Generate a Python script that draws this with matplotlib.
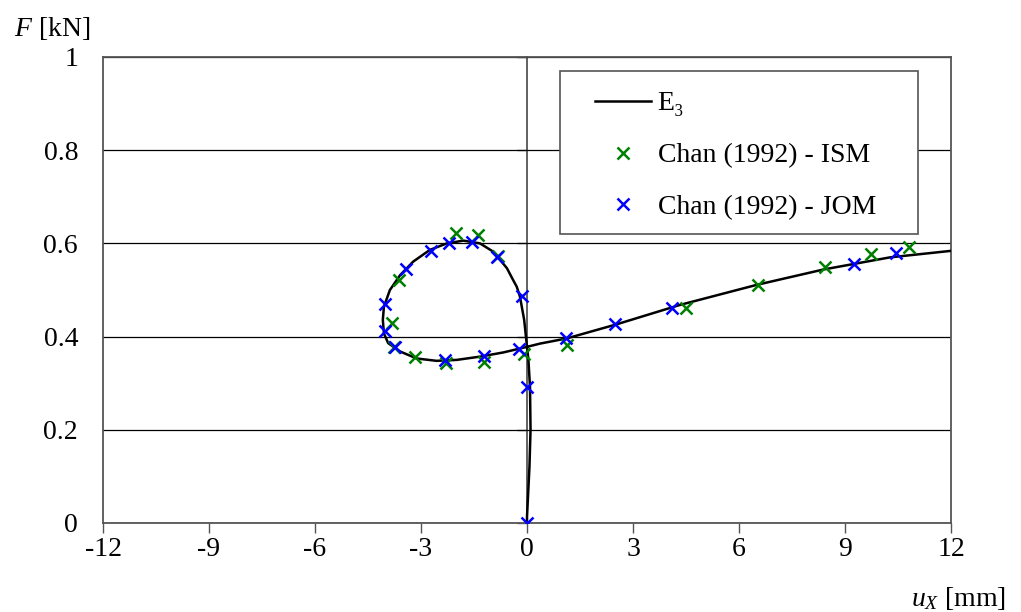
import matplotlib as mpl
import matplotlib.pyplot as plt
import numpy as np
from matplotlib.patches import Rectangle

mpl.rcParams['font.family'] = ['Liberation Serif', 'DejaVu Serif']
mpl.rcParams['mathtext.fontset'] = 'custom'
mpl.rcParams['mathtext.rm'] = 'Liberation Serif'
mpl.rcParams['mathtext.it'] = 'Liberation Serif:italic'

# E3 curve
e3_x = [0.0, 0.0, 0.07, 0.10, 0.085, 0.04, 0.0, -0.08, -0.2, -0.29, -0.39, -0.57,
        -0.95, -1.33, -1.80, -2.27, -2.75, -3.22, -3.59, -3.88, -4.05, -4.08,
        -4.05, -3.93, -3.59, -3.12, -2.56, -1.99, -1.33, -0.67, 0.0, 0.37, 1.12,
        2.52, 4.33, 6.50, 8.39, 10.27, 12.0]
e3_y = [0.0, 0.013, 0.121, 0.200, 0.292, 0.350, 0.378, 0.436, 0.486, 0.507, 0.521,
        0.547, 0.582, 0.600, 0.606, 0.600, 0.586, 0.561, 0.532, 0.500, 0.464,
        0.436, 0.407, 0.386, 0.368, 0.353, 0.348, 0.350, 0.357, 0.366, 0.378,
        0.385, 0.396, 0.426, 0.468, 0.511, 0.544, 0.570, 0.584]

# Chan (1992) - ISM
ism_x = [-2.02, -1.40, -0.81, -3.62, -3.83, -3.76, -3.17, -2.29, -1.21, -0.08,
         1.13, 4.49, 6.53, 8.43, 9.74, 10.81]
ism_y = [0.622, 0.618, 0.574, 0.521, 0.429, 0.378, 0.357, 0.344, 0.346, 0.363,
         0.382, 0.461, 0.511, 0.550, 0.577, 0.593]

# Chan (1992) - JOM
jom_x = [0.0, 0.01, -0.22, -1.21, -2.32, -3.74, -4.02, -4.02, -3.43, -2.72, -2.20,
         -1.57, -0.86, -0.15, 1.09, 2.50, 4.10, 9.26, 10.43]
jom_y = [0.0, 0.291, 0.374, 0.358, 0.350, 0.378, 0.413, 0.469, 0.544, 0.584, 0.600,
         0.602, 0.571, 0.488, 0.396, 0.426, 0.461, 0.555, 0.579]

xticks = np.arange(-12, 13, 3)
yticks = [0, 0.2, 0.4, 0.6, 0.8, 1]
yticklabels = ['0', '0.2', '0.4', '0.6', '0.8', '1']

W, H = 1021, 612
fig = plt.figure(figsize=(W / 100, H / 100), dpi=100)
ax = fig.add_axes([103 / W, 1 - 523 / H, 848 / W, 466 / H])

ax.plot(e3_x, e3_y, color='black', lw=1.8, label='E₃', zorder=3)
ax.plot(ism_x, ism_y, 'x', color='#008000', ms=9, mew=1.8,
        label='Chan (1992) - ISM', zorder=4)
ax.plot(jom_x, jom_y, 'x', color='#0000ff', ms=9, mew=1.8,
        label='Chan (1992) - JOM', zorder=5)

ax.set_xlim(-12, 12)
ax.set_ylim(0, 1)
ax.set_xticks(xticks)
ax.set_xticklabels([str(t) for t in xticks])
ax.set_yticks(yticks)
ax.set_yticklabels(yticklabels)
ax.yaxis.grid(True, color='black', lw=0.9)
ax.set_axisbelow(True)

for s in ax.spines.values():
    s.set_color('#555555')
    s.set_linewidth(1.3)

ax.tick_params(axis='x', direction='out', length=7.2, width=1, colors='#555555',
               labelcolor='black', labelsize=20, pad=3)
ax.tick_params(axis='y', length=0, labelsize=20, pad=18)

# vertical axis crossing at x = 0 with tick marks pointing left
sec = ax.secondary_yaxis(0.5)
sec.set_yticks(yticks)
sec.tick_params(axis='y', direction='in', length=7.2, width=1, colors='#555555',
                labelleft=False, labelright=False)
for s in sec.spines.values():
    s.set_color('#555555')
    s.set_linewidth(1.3)

# legend frame drawn separately so the inner margins match
ax.add_patch(Rectangle(((560 - 103) / 848, (523 - 234) / 466), 358 / 848, 163 / 466,
                       transform=ax.transAxes, facecolor='white',
                       edgecolor='#555555', lw=1.2, zorder=6))
leg = ax.legend(loc='upper left', bbox_to_anchor=((595 - 103) / 848, 1 - 34 / 466),
                fontsize=20, frameon=False, handlelength=2.0, labelspacing=0.95,
                borderpad=0, handletextpad=0.25, borderaxespad=0)
leg.set_zorder(7)

fig.text(52 / W, 1 - 28 / H, '$F$ [kN]', fontsize=20, ha='center', va='center')
fig.text(958 / W, 1 - 598 / H, '$u_X$ [mm]', fontsize=20, ha='center', va='center')

fig.savefig('out.png', dpi=100)
